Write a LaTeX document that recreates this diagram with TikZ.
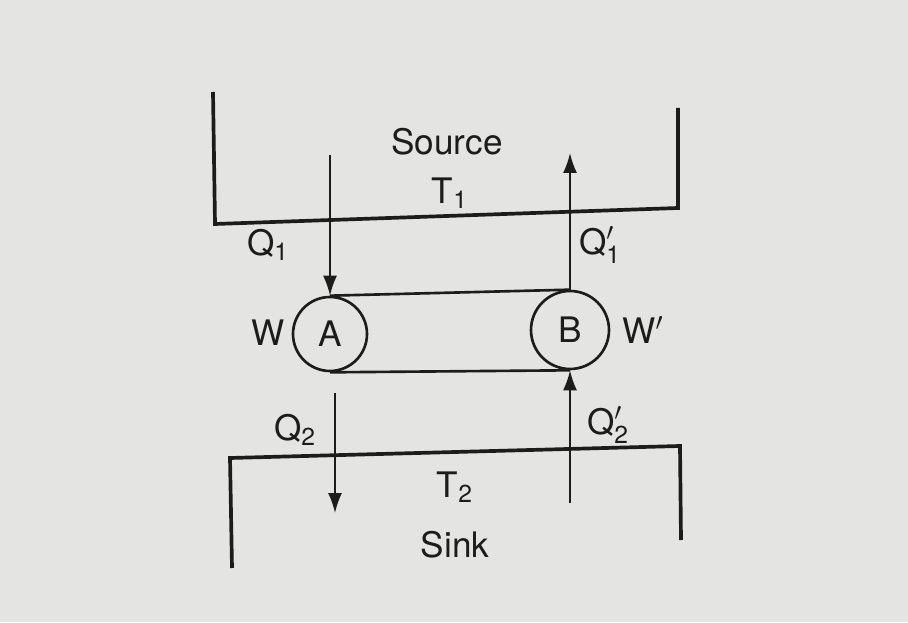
\documentclass[tikz,border=0pt]{standalone}
\usepackage{fontspec}
\setmainfont{TeX Gyre Heros}
\setsansfont{TeX Gyre Heros}
\usepackage{tikz}
\usetikzlibrary{arrows.meta}
\definecolor{paper}{HTML}{E4E4E2}
\definecolor{ink}{HTML}{1C1C1C}

\begin{document}
\begin{tikzpicture}[font=\fontsize{20}{24}\selectfont\sffamily, ink,
  flow/.style={line width=1.1pt, -{Latex[length=4mm,width=2.8mm]}}]
\fill[paper] (0,0) rectangle (18.16,12.44);
\useasboundingbox (0,0) rectangle (18.16,12.44);
% reservoirs
\draw [line width=2.1pt] (4.26,10.60) -- (4.30,7.96) -- (13.56,8.28) -- (13.56,10.28);
\draw [line width=2.1pt] (4.64,1.08) -- (4.60,3.28) -- (13.60,3.52) -- (13.62,1.64);
% engines
\begin{scope}[every node/.style={circle,draw,line width=1.5pt,inner sep=0pt}]
\node[minimum size=1.48cm] (A) at (6.60,5.76) {A};
\node[minimum size=1.56cm] (B) at (11.40,5.84) {B};
\end{scope}
\draw [line width=1.5pt] (A.north) -- (B.north);
\draw [line width=1.5pt] (A.south) -- (B.south);
% heat flows
\coordinate (q1) at (6.60,9.34);
\coordinate (q1p) at (11.40,9.38);
\coordinate (q2s) at (6.70,4.58);
\coordinate (q2e) at (6.70,2.18);
\coordinate (q2p) at (11.40,2.38);
\draw [flow] (q1) -- (A.north);
\draw [flow] (B.north) -- (q1p);
\draw [flow] (q2s) -- (q2e);
\draw [flow] (q2p) -- (B.south);
% labels
\node (source) at (8.94,9.60) {Source};
\node (T1) at (9.00,8.58) {T$_{\mathsf{1}}$};
\node (Q1) at (5.36,7.54) {Q$_{\mathsf{1}}$};
\node (Q1p) at (12.00,7.54) {Q$'_{\mathsf{1}}$};
\node (W) at (5.36,5.78) {W};
\node (Wp) at (12.86,5.84) {W$'$};
\node (Q2) at (5.90,3.84) {Q$_{\mathsf{2}}$};
\node (Q2p) at (12.16,3.94) {Q$'_{\mathsf{2}}$};
\node (T2) at (9.10,2.70) {T$_{\mathsf{2}}$};
\node (sink) at (9.10,1.54) {Sink};
\end{tikzpicture}
\end{document}
